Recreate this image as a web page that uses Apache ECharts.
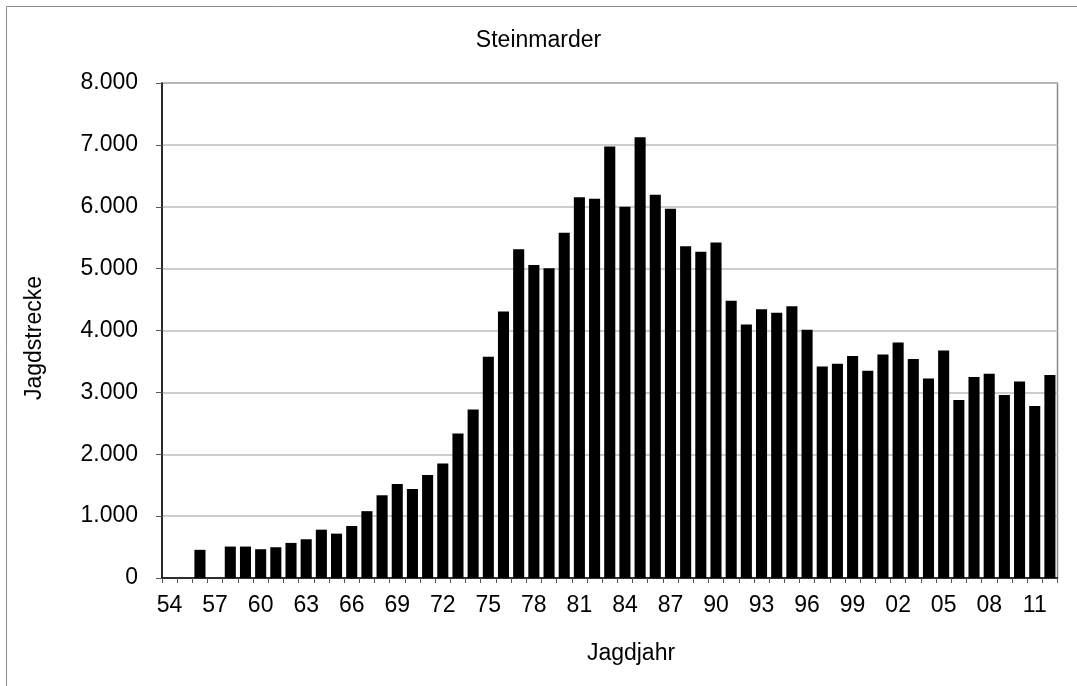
<!DOCTYPE html>
<html>
<head>
<meta charset="utf-8">
<script src="https://cdn.jsdelivr.net/npm/echarts@6/dist/echarts.min.js"></script>
<style>
html,body{margin:0;padding:0;background:#fff;}
#chart{width:1077px;height:686px;}
</style>
</head>
<body>
<div id="chart"></div>
<script>
var years = ['54','55','56','57','58','59','60','61','62','63','64','65','66','67','68','69','70','71','72','73','74','75','76','77','78','79','80','81','82','83','84','85','86','87','88','89','90','91','92','93','94','95','96','97','98','99','00','01','02','03','04','05','06','07','08','09','10','11','12'];
var strecke = [null,null,455,null,508,508,465,497,567,626,781,717,840,1080,1337,1519,1439,1663,1850,2337,2725,3576,4308,5315,5057,5008,5579,6155,6128,6974,5999,7124,6193,5967,5363,5272,5423,4480,4098,4344,4285,4392,4011,3419,3462,3586,3349,3613,3806,3538,3226,3677,2876,3247,3301,2957,3177,2780,3280];
var titleText = 'Steinmarder';
var xName = 'Jagdjahr';
var yName = 'Jagdstrecke';

var FONT = '"Liberation Sans", Arial, sans-serif';
var chart = echarts.init(document.getElementById('chart'));
chart.setOption({
  animation: false,
  backgroundColor: '#fff',
  title: {
    text: titleText,
    left: 'center',
    top: 24,
    textStyle: {fontFamily: FONT, fontSize: 23, fontWeight: 'normal', color: '#000'}
  },
  grid: {
    left: 162, right: 19.5, top: 83, bottom: 108,
    show: true, borderColor: '#8a8a8a', borderWidth: 1.5, backgroundColor: 'transparent'
  },
  xAxis: {
    type: 'category',
    data: years,
    boundaryGap: true,
    axisLine: {lineStyle: {color: '#000', width: 1.5}},
    axisTick: {show: true, interval: 0, length: 5, alignWithLabel: false, lineStyle: {color: '#555'}},
    axisLabel: {interval: 2, margin: 16, fontFamily: FONT, fontSize: 23, color: '#000'},
    splitLine: {show: false}
  },
  yAxis: {
    type: 'value',
    min: 0, max: 8000, interval: 1000,
    axisLine: {show: true, lineStyle: {color: '#000', width: 1.5}},
    axisTick: {show: true, length: 6, lineStyle: {color: '#555'}},
    axisLabel: {
      margin: 24, fontFamily: FONT, fontSize: 23, color: '#000',
      formatter: function (v) { return v === 0 ? '0' : String(v).replace(/\B(?=(\d{3})+(?!\d))/g, '.'); }
    },
    splitLine: {lineStyle: {color: '#bcbcbc', width: 1.5}}
  },
  series: [{
    type: 'bar',
    data: strecke,
    barCategoryGap: '27%',
    itemStyle: {color: '#000'}
  }],
  graphic: [
    {type: 'rect', z: -10, shape: {x: 6.5, y: 6.5, width: 1200, height: 800}, style: {fill: 'none', stroke: '#8a8a8a', lineWidth: 1}},
    {type: 'text', x: 631, y: 654, style: {text: xName, align: 'center', verticalAlign: 'middle', font: '23px ' + FONT, fill: '#000'}},
    {type: 'text', x: 35, y: 338, rotation: Math.PI / 2, style: {text: yName, align: 'center', verticalAlign: 'middle', font: '23px ' + FONT, fill: '#000'}}
  ]
});
</script>
</body>
</html>
